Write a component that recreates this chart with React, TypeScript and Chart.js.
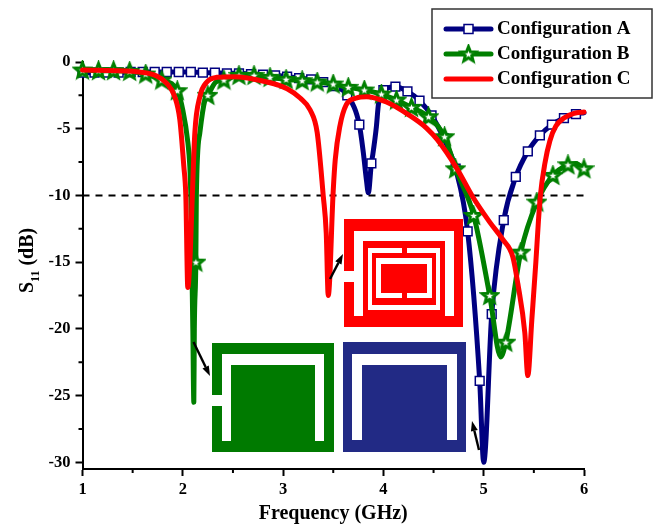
import React, { useEffect, useRef } from "react";
import { Chart, registerables } from "chart.js";

Chart.register(...registerables);

const FONT = '"Liberation Serif"';
const NAVY = "#000080";
const GREEN = "#007f00";
const RED = "#ff0000";

const labels = ["Configuration A", "Configuration B", "Configuration C"];
const xTicks = [1, 2, 3, 4, 5, 6];
const yTicks = [0, -5, -10, -15, -20, -25, -30];

const freqA = [1, 1.12, 1.24, 1.36, 1.48, 1.6, 1.72, 1.84, 1.96, 2.08, 2.2, 2.32, 2.44, 2.56, 2.68, 2.8, 2.92, 3.04, 3.16, 3.28, 3.4, 3.52, 3.64, 3.76, 3.8, 3.83, 3.85, 3.88, 3.895, 3.93, 3.95, 3.98, 4, 4.12, 4.24, 4.36, 4.48, 4.6, 4.72, 4.84, 4.96, 5, 5.08, 5.2, 5.32, 5.44, 5.56, 5.68, 5.8, 5.92, 6];
const s11A = [-0.8, -0.8, -0.8, -0.8, -0.75, -0.75, -0.75, -0.75, -0.75, -0.75, -0.8, -0.8, -0.85, -0.85, -0.9, -0.95, -1, -1.1, -1.2, -1.3, -1.5, -1.8, -2.5, -4.7, -6.8, -8.8, -9.8, -7.6, -6.9, -4.85, -3.2, -2.35, -2.1, -1.85, -2.2, -2.9, -4, -5.7, -8, -12.7, -23.9, -30, -18.9, -11.85, -8.6, -6.7, -5.5, -4.7, -4.2, -3.9, -3.8];
const markersA = [1, 1.12, 1.24, 1.36, 1.48, 1.6, 1.72, 1.84, 1.96, 2.08, 2.2, 2.32, 2.44, 2.56, 2.68, 2.8, 2.92, 3.04, 3.16, 3.28, 3.4, 3.52, 3.64, 3.76, 3.88, 4, 4.12, 4.24, 4.36, 4.48, 4.6, 4.72, 4.84, 4.96, 5.08, 5.2, 5.32, 5.44, 5.56, 5.68, 5.8, 5.92];

const freqB = [1, 1.16, 1.31, 1.47, 1.63, 1.79, 1.945, 2, 2.05, 2.07, 2.08, 2.09, 2.1, 2.11, 2.115, 2.13, 2.135, 2.17, 2.22, 2.25, 2.33, 2.41, 2.56, 2.71, 2.87, 3.03, 3.19, 3.34, 3.5, 3.65, 3.81, 3.98, 4.13, 4.28, 4.45, 4.61, 4.72, 4.9, 5.06, 5.17, 5.22, 5.37, 5.53, 5.69, 5.84, 5.92, 6];
const s11B = [-0.6, -0.65, -0.65, -0.7, -0.9, -1.35, -2.15, -3.6, -6, -7.8, -10, -15, -20, -25.5, -20, -15, -10, -5.3, -2.85, -2.5, -1.5, -1.35, -1, -1, -1.15, -1.3, -1.4, -1.5, -1.65, -1.9, -2.1, -2.4, -2.85, -3.4, -4.1, -5.6, -8, -11.5, -17.5, -22.1, -21, -14.25, -10.5, -8.5, -7.7, -7.6, -8];
const markersB = [1, 1.16, 1.31, 1.47, 1.63, 1.79, 1.945, 2.13, 2.25, 2.41, 2.56, 2.71, 2.87, 3.03, 3.19, 3.34, 3.5, 3.65, 3.81, 3.98, 4.13, 4.28, 4.45, 4.61, 4.72, 4.9, 5.06, 5.22, 5.37, 5.53, 5.69, 5.84, 6];

const freqC = [1, 1.5, 1.74, 1.84, 1.92, 1.97, 2.01, 2.03, 2.05, 2.07, 2.095, 2.12, 2.17, 2.24, 2.34, 2.5, 2.84, 3.04, 3.17, 3.27, 3.34, 3.4, 3.43, 3.45, 3.5, 3.52, 3.565, 3.63, 3.73, 3.83, 4.03, 4.26, 4.43, 4.54, 4.73, 4.89, 5.06, 5.19, 5.29, 5.34, 5.41, 5.44, 5.48, 5.52, 5.545, 5.565, 5.61, 5.66, 5.72, 5.8, 5.9, 6];
const s11C = [-0.6, -0.7, -1.05, -1.6, -2.6, -4.3, -7.8, -10, -16.9, -15, -10, -5.3, -2.6, -1.5, -1.15, -1.1, -1.5, -2, -2.7, -3.6, -5.3, -10, -12.8, -17.5, -9.6, -7.3, -4.85, -3.2, -2.7, -2.6, -3, -4, -4.95, -5.85, -7.95, -10.1, -12, -13.3, -14.6, -16.6, -20.3, -23.5, -19.3, -15, -12, -10, -7.6, -5.9, -4.8, -4.2, -3.85, -3.75];

const refFreq = [1, 6];
const refLevel = [-10, -10];

const minorX = [1.5, 2.5, 3.5, 4.5, 5.5];
const minorY = [-2.5, -7.5, -12.5, -17.5, -22.5, -27.5];

function makeStar(fill: string, stroke: string): HTMLCanvasElement {
  const size = 21;
  const c = document.createElement("canvas");
  c.width = size;
  c.height = size;
  const g = c.getContext("2d")!;
  const cx = size / 2;
  const cy = size / 2 + 0.5;
  g.beginPath();
  for (let i = 0; i < 10; i++) {
    const r = i % 2 === 0 ? 7.8 : 3.4;
    const a = -Math.PI / 2 + (i * Math.PI) / 5;
    const px = cx + r * Math.cos(a);
    const py = cy + r * Math.sin(a);
    if (i === 0) g.moveTo(px, py);
    else g.lineTo(px, py);
  }
  g.closePath();
  g.lineJoin = "miter";
  g.lineWidth = 3;
  g.fillStyle = fill;
  g.strokeStyle = stroke;
  g.fill();
  g.stroke();
  return c;
}

function rects(ctx: CanvasRenderingContext2D, colour: string, list: number[][]) {
  ctx.fillStyle = colour;
  for (const [x0, y0, x1, y1] of list) ctx.fillRect(x0, y0, x1 - x0, y1 - y0);
}

function arrow(ctx: CanvasRenderingContext2D, x0: number, y0: number, x1: number, y1: number) {
  const a = Math.atan2(y1 - y0, x1 - x0);
  const hl = 10;
  const hw = 3.5;
  const bx = x1 - hl * Math.cos(a);
  const by = y1 - hl * Math.sin(a);
  ctx.strokeStyle = "#000";
  ctx.fillStyle = "#000";
  ctx.lineWidth = 2.4;
  ctx.beginPath();
  ctx.moveTo(x0, y0);
  ctx.lineTo(bx, by);
  ctx.stroke();
  ctx.beginPath();
  ctx.moveTo(x1, y1);
  ctx.lineTo(bx - hw * Math.sin(a), by + hw * Math.cos(a));
  ctx.lineTo(bx + hw * Math.sin(a), by - hw * Math.cos(a));
  ctx.closePath();
  ctx.fill();
}

function drawInsets(ctx: CanvasRenderingContext2D) {
  const W = "#fff";
  // Green patch
  rects(ctx, "#007a00", [[212, 343, 334, 452]]);
  rects(ctx, W, [[222, 354, 324, 441], [212, 395, 222, 406]]);
  rects(ctx, "#007a00", [[231, 365, 315, 452]]);
  // Blue patch
  rects(ctx, "#222a85", [[343, 342, 466, 452]]);
  rects(ctx, W, [[352, 354, 457, 440]]);
  rects(ctx, "#222a85", [[362, 365, 447, 452]]);
  // Red patch
  rects(ctx, RED, [[344, 219, 463, 327]]);
  rects(ctx, W, [[354, 231, 454, 316], [344, 271, 354, 282]]);
  rects(ctx, RED, [[363, 241, 445, 327]]);
  rects(ctx, W, [[368, 248, 440, 310]]);
  rects(ctx, RED, [[372, 253, 436, 305], [402, 248, 407, 253]]);
  rects(ctx, W, [[376, 258, 432, 298]]);
  rects(ctx, RED, [[381, 264, 427, 293], [402, 293, 407, 298]]);
  // Arrows
  arrow(ctx, 193.5, 342, 210, 376);
  arrow(ctx, 330, 279, 343, 254);
  arrow(ctx, 479, 450, 472, 421);
}

function drawLegend(ctx: CanvasRenderingContext2D, square: (x: number, y: number) => void, star: HTMLCanvasElement) {
  ctx.fillStyle = "#fff";
  ctx.fillRect(432, 9, 220, 89);
  ctx.strokeStyle = "#333";
  ctx.lineWidth = 1.5;
  ctx.strokeRect(432, 9, 220, 89);
  const rows = [29, 54, 79];
  const colours = [NAVY, GREEN, RED];
  rows.forEach((y, i) => {
    ctx.strokeStyle = colours[i];
    ctx.lineWidth = 5;
    ctx.lineCap = "round";
    ctx.beginPath();
    ctx.moveTo(446, y);
    ctx.lineTo(491, y);
    ctx.stroke();
    ctx.lineCap = "butt";
    if (i === 0) square(468.5, y);
    if (i === 1) ctx.drawImage(star, 468.5 - star.width / 2, y - star.height / 2);
    ctx.fillStyle = "#000";
    ctx.font = `bold 19px ${FONT}`;
    ctx.textAlign = "left";
    ctx.textBaseline = "middle";
    ctx.fillText(labels[i], 497, y + 0.5);
  });
}

function drawYTitle(ctx: CanvasRenderingContext2D) {
  ctx.save();
  ctx.translate(33, 293);
  ctx.rotate(-Math.PI / 2);
  ctx.fillStyle = "#000";
  ctx.textAlign = "left";
  ctx.textBaseline = "alphabetic";
  ctx.font = `bold 20px ${FONT}`;
  ctx.fillText("S", 0, 0);
  let w = ctx.measureText("S").width;
  ctx.font = `bold 12px ${FONT}`;
  ctx.fillText("11", w, 6);
  w += ctx.measureText("11").width;
  ctx.font = `bold 20px ${FONT}`;
  ctx.fillText(" (dB)", w, 0);
  ctx.restore();
}

export default function App() {
  const ref = useRef<HTMLCanvasElement>(null);

  useEffect(() => {
    const star = makeStar("#fff", GREEN);
    const near = (list: number[], v: number) => list.some((m) => Math.abs(m - v) < 1e-6);

    const decorations = {
      id: "decorations",
      afterDatasetsDraw(chart: any) {
        const { ctx, scales } = chart;
        ctx.save();
        // Minor ticks
        ctx.strokeStyle = "#000";
        ctx.lineWidth = 2;
        const left = scales.y.left + scales.y.width;
        const bottom = scales.x.top;
        ctx.beginPath();
        minorY.forEach((v) => {
          const p = scales.y.getPixelForValue(v);
          ctx.moveTo(left, p);
          ctx.lineTo(left - 4, p);
        });
        minorX.forEach((v) => {
          const p = scales.x.getPixelForValue(v);
          ctx.moveTo(p, bottom);
          ctx.lineTo(p, bottom + 4);
        });
        ctx.stroke();
        drawInsets(ctx);
        drawYTitle(ctx);
        const square = (x: number, y: number) => {
          ctx.fillStyle = "#fff";
          ctx.strokeStyle = NAVY;
          ctx.lineWidth = 1.5;
          ctx.fillRect(x - 4.5, y - 4.5, 9, 9);
          ctx.strokeRect(x - 4.5, y - 4.5, 9, 9);
        };
        drawLegend(ctx, square, star);
        ctx.restore();
      },
    };

    const toPts = (xs: number[], ys: number[]) => xs.map((x, i) => ({ x, y: ys[i] }));
    const line = {
      showLine: true,
      borderWidth: 5,
      borderCapStyle: "round",
      borderJoinStyle: "round",
      cubicInterpolationMode: "monotone",
      clip: false,
      pointHoverRadius: 0,
    };

    const chart = new Chart(ref.current!, {
      type: "line",
      data: {
        datasets: [
          {
            ...line,
            label: labels[0],
            order: 3,
            data: toPts(freqA, s11A),
            borderColor: NAVY,
            pointStyle: "rect",
            pointBackgroundColor: "#fff",
            pointBorderColor: NAVY,
            pointBorderWidth: 1.5,
            pointRadius: (c: any) => (near(markersA, c.raw?.x) ? 6.2 : 0),
          },
          {
            ...line,
            label: labels[1],
            order: 2,
            data: toPts(freqB, s11B),
            borderColor: GREEN,
            pointStyle: star,
            pointRadius: (c: any) => (near(markersB, c.raw?.x) ? 7 : 0),
          },
          {
            ...line,
            label: labels[2],
            order: 1,
            data: toPts(freqC, s11C),
            borderColor: RED,
            pointRadius: 0,
          },
          {
            label: "-10 dB",
            order: 4,
            data: toPts(refFreq, refLevel),
            borderColor: "#000",
            borderWidth: 2,
            borderDash: [7, 6],
            pointRadius: 0,
            tension: 0,
          },
        ],
      } as any,
      options: {
        responsive: false,
        animation: false,
        events: [],
        layout: { padding: { top: 62, right: 75, left: 0, bottom: 0 } },
        plugins: { legend: { display: false }, tooltip: { enabled: false } },
        scales: {
          x: {
            type: "linear",
            min: 1,
            max: 6,
            afterBuildTicks: (s: any) => {
              s.ticks = xTicks.map((value) => ({ value }));
            },
            afterFit: (s: any) => {
              s.height = 59;
            },
            grid: { drawOnChartArea: false, drawTicks: true, tickLength: 7, tickColor: "#000", tickWidth: 2 },
            border: { color: "#000", width: 2 },
            ticks: { color: "#000", padding: 4, maxRotation: 0, font: { family: FONT, size: 16.5, weight: "bold" } },
            title: {
              display: true,
              text: "Frequency (GHz)",
              color: "#000",
              padding: { top: 0, bottom: 2 },
              font: { family: FONT, size: 20, weight: "bold" },
            },
          },
          y: {
            type: "linear",
            min: -30.5,
            max: 0,
            afterBuildTicks: (s: any) => {
              s.ticks = yTicks.map((value) => ({ value }));
            },
            afterFit: (s: any) => {
              s.width = 82.5;
            },
            grid: { drawOnChartArea: false, drawTicks: true, tickLength: 7, tickColor: "#000", tickWidth: 2 },
            border: { color: "#000", width: 2 },
            ticks: { color: "#000", padding: 5, font: { family: FONT, size: 16.5, weight: "bold" } },
          },
        },
      } as any,
      plugins: [decorations],
    });
    return () => chart.destroy();
  }, []);

  return (
    <canvas
      ref={ref}
      width={659}
      height={528}
      style={{ position: "absolute", left: 0, top: 0, width: 659, height: 528 }}
    />
  );
}
